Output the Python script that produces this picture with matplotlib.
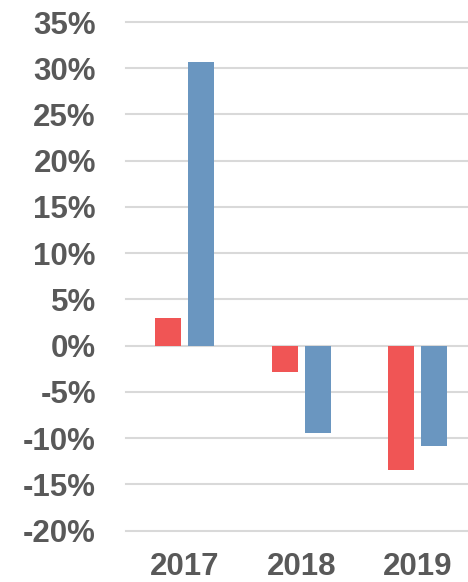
import matplotlib
matplotlib.use("Agg")
import matplotlib.pyplot as plt
import numpy as np

categories = ["2017", "2018", "2019"]
series_red = [3.0, -2.8, -13.4]
series_blue = [30.7, -9.4, -10.8]
yticks = [-20, -15, -10, -5, 0, 5, 10, 15, 20, 25, 30, 35]
ytick_labels = [f"{v}%" for v in yticks]

red = "#F05555"
blue = "#6A96C0"
grid_c = "#D9D9D9"
text_c = "#595959"

plt.rcParams["font.family"] = ["Liberation Sans", "DejaVu Sans"]

fig = plt.figure(figsize=(4.68, 5.82), dpi=100)
ax = fig.add_axes([126.5 / 468, 1 - 530.7 / 582, 349.5 / 468, (530.7 - 22) / 582])

x = np.arange(len(categories))
w = 0.223
off = 0.1416
ax.bar(x - off, series_red, width=w, color=red, zorder=3)
ax.bar(x + off, series_blue, width=w, color=blue, zorder=3)

ax.set_xlim(-0.5, 2.5)
ax.set_ylim(-20, 35)
ax.set_yticks(yticks)
ax.set_yticklabels(ytick_labels)
ax.set_xticks(x)
ax.set_xticklabels(categories)

for s in ax.spines.values():
    s.set_visible(False)
ax.tick_params(axis="both", length=0, labelsize=22.5, labelcolor=text_c)
ax.tick_params(axis="y", pad=22)
ax.tick_params(axis="x", pad=15)
for lab in ax.get_xticklabels() + ax.get_yticklabels():
    lab.set_fontweight("bold")

ax.yaxis.grid(True, color=grid_c, linewidth=1.5, zorder=0)
ax.set_axisbelow(True)
for ln in ax.get_ygridlines():
    ln.set_clip_on(False)

fig.savefig("out.png", dpi=100)
